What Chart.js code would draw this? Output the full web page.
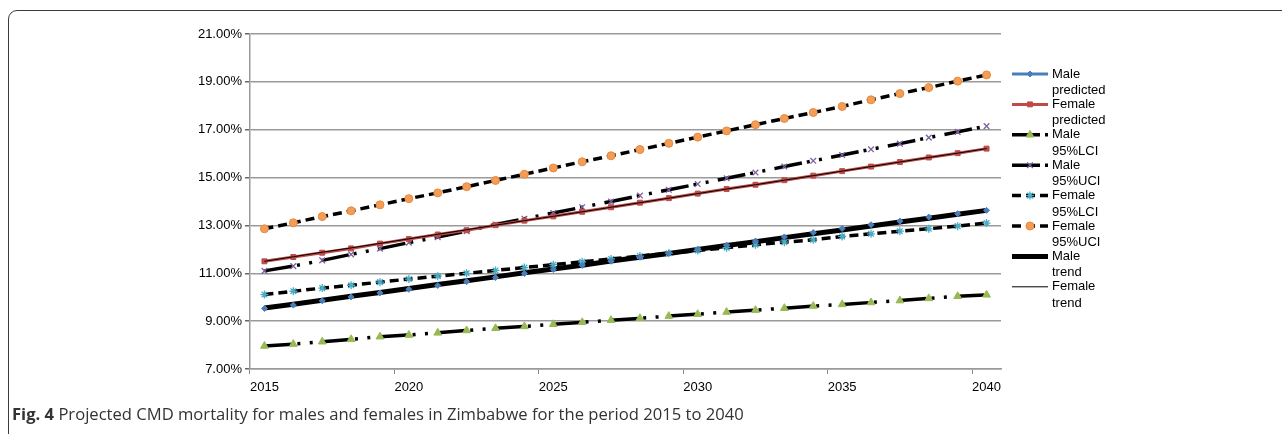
<!DOCTYPE html>
<html>
<head>
<meta charset="utf-8">
<script src="https://cdn.jsdelivr.net/npm/chart.js@4.4.1/dist/chart.umd.min.js"></script>
<style>
  html, body { margin: 0; padding: 0; background: #fff; overflow: hidden; }
  #frame {
    position: absolute; left: 8px; top: 10px; width: 1400px; height: 600px;
    border: 1.5px solid #3c3c3c; border-radius: 9px; box-sizing: border-box;
  }
  #caption {
    position: absolute; left: 12px; top: 402px; white-space: nowrap;
    font-family: "Open Sans", sans-serif; font-size: 16.6px; color: #333;
  }
  #caption b { font-weight: 700; }
  #chart { position: absolute; left: 0; top: 0; }
</style>
</head>
<body>
<div id="frame"></div>
<canvas id="chart" width="1282" height="434"></canvas>
<div id="caption"><b>Fig. 4</b> Projected CMD mortality for males and females in Zimbabwe for the period 2015 to 2040</div>
<script>
// years on the category axis
let years = ['2015', '2016', '2017', '2018', '2019', '2020', '2021', '2022', '2023', '2024', '2025', '2026', '2027',
             '2028', '2029', '2030', '2031', '2032', '2033', '2034', '2035', '2036', '2037', '2038', '2039', '2040'];

// mortality in percent
let malePredicted = [9.53, 9.67, 9.85, 10.01, 10.18, 10.33, 10.49, 10.65, 10.82, 10.99, 11.16, 11.33, 11.50,
                     11.67, 11.84, 12.01, 12.18, 12.35, 12.52, 12.70, 12.87, 13.03, 13.18, 13.35, 13.49, 13.63];
let femalePredicted = [11.50, 11.68, 11.86, 12.04, 12.24, 12.43, 12.62, 12.80, 13.01, 13.20, 13.38, 13.57, 13.76,
                       13.95, 14.14, 14.33, 14.52, 14.70, 14.89, 15.08, 15.27, 15.46, 15.65, 15.84, 16.02, 16.21];
let maleLCI = [7.96, 8.04, 8.14, 8.24, 8.35, 8.42, 8.51, 8.61, 8.70, 8.78, 8.87, 8.95, 9.04,
               9.12, 9.21, 9.29, 9.38, 9.46, 9.54, 9.63, 9.70, 9.78, 9.86, 9.95, 10.04, 10.10];
let maleUCI = [11.10, 11.30, 11.54, 11.79, 12.03, 12.28, 12.51, 12.76, 13.04, 13.28, 13.52, 13.76, 14.00,
               14.25, 14.49, 14.73, 14.97, 15.21, 15.46, 15.70, 15.94, 16.18, 16.42, 16.67, 16.91, 17.15];
let femaleLCI = [10.11, 10.25, 10.38, 10.50, 10.63, 10.76, 10.88, 11.00, 11.12, 11.24, 11.36, 11.48, 11.60,
                 11.72, 11.84, 11.95, 12.07, 12.19, 12.30, 12.40, 12.54, 12.65, 12.76, 12.86, 12.97, 13.10];
let femaleUCI = [12.86, 13.11, 13.37, 13.61, 13.86, 14.12, 14.36, 14.62, 14.88, 15.14, 15.40, 15.66, 15.91,
                 16.17, 16.43, 16.69, 16.95, 17.21, 17.47, 17.72, 17.97, 18.25, 18.51, 18.76, 19.03, 19.29];
let maleTrend = [9.55, 9.71, 9.87, 10.04, 10.20, 10.36, 10.53, 10.69, 10.85, 11.02, 11.18, 11.34, 11.51,
                 11.67, 11.83, 12.00, 12.16, 12.32, 12.49, 12.65, 12.81, 12.98, 13.14, 13.30, 13.47, 13.63];
let femaleTrend = [11.50, 11.69, 11.88, 12.06, 12.25, 12.44, 12.63, 12.82, 13.01, 13.20, 13.38, 13.57, 13.76,
                   13.95, 14.14, 14.33, 14.52, 14.70, 14.89, 15.08, 15.27, 15.46, 15.65, 15.84, 16.02, 16.21];

let yTicks = { min: 7, max: 21, step: 2 };

Chart.defaults.font.family = '"Liberation Sans", Arial, sans-serif';
Chart.defaults.font.size = 13;
Chart.defaults.color = '#000';

const dashDotDot = [28, 5, 3, 9.4, 3, 9.4];
const dash = [9, 5];

// legend drawn by hand so the entries can wrap onto two lines like the original
const sideLegend = {
    id: 'sideLegend',
    afterDraw(chart) {
        let ctx = chart.ctx;
        let area = chart.chartArea;
        let x0 = area.right + 11;
        let y = area.top + 40;
        chart.data.datasets.forEach(ds => {
            ctx.save();
            ctx.strokeStyle = ds.borderColor;
            ctx.lineWidth = ds.borderWidth;
            ctx.setLineDash(ds.borderDash || []);
            ctx.beginPath();
            ctx.moveTo(x0, y);
            ctx.lineTo(x0 + 36, y);
            ctx.stroke();
            ctx.setLineDash([]);
            if (ds.pointRadius > 0) {
                ctx.fillStyle = ds.pointBackgroundColor;
                ctx.strokeStyle = ds.pointBorderColor;
                ctx.lineWidth = ds.pointBorderWidth;
                Chart.helpers.drawPoint(ctx, { pointStyle: ds.pointStyle, radius: ds.pointRadius, rotation: 0, borderWidth: ds.pointBorderWidth }, x0 + 18, y);
            }
            ctx.fillStyle = '#000';
            ctx.font = '13px "Liberation Sans", Arial, sans-serif';
            ctx.textBaseline = 'middle';
            ctx.fillText(ds.label[0], x0 + 40, y);
            ctx.fillText(ds.label[1], x0 + 40, y + 16.5);
            ctx.restore();
            y += 30.4;
        });
    }
};

let chart = new Chart(document.getElementById('chart').getContext('2d'), {
    type: 'line',
    data: {
        labels: years,
        datasets: [
            {
                label: ['Male', 'predicted'], data: malePredicted, showLine: false,
                borderColor: '#4a7ebb', borderWidth: 3,
                pointStyle: 'rectRot', pointRadius: 3, pointBackgroundColor: '#4a7ebb', pointBorderColor: '#4a7ebb', pointBorderWidth: 1
            },
            {
                label: ['Female', 'predicted'], data: femalePredicted,
                borderColor: '#be4b48', borderWidth: 3,
                pointStyle: 'rect', pointRadius: 3.5, pointBackgroundColor: '#be4b48', pointBorderColor: '#be4b48', pointBorderWidth: 1
            },
            {
                label: ['Male', '95%LCI'], data: maleLCI,
                borderColor: '#000', borderWidth: 3.5, borderDash: dashDotDot,
                pointStyle: 'triangle', pointRadius: 4.5, pointBackgroundColor: '#98b954', pointBorderColor: '#98b954', pointBorderWidth: 1
            },
            {
                label: ['Male', '95%UCI'], data: maleUCI,
                borderColor: '#000', borderWidth: 3.5, borderDash: dashDotDot,
                pointStyle: 'crossRot', pointRadius: 4, pointBackgroundColor: '#7d60a0', pointBorderColor: '#7d60a0', pointBorderWidth: 1.3
            },
            {
                label: ['Female', '95%LCI'], data: femaleLCI,
                borderColor: '#000', borderWidth: 3.5, borderDash: dash,
                pointStyle: 'star', pointRadius: 4, pointBackgroundColor: '#4bacc6', pointBorderColor: '#4bacc6', pointBorderWidth: 1.3
            },
            {
                label: ['Female', '95%UCI'], data: femaleUCI,
                borderColor: '#000', borderWidth: 3.5, borderDash: dash,
                pointStyle: 'circle', pointRadius: 4, pointBackgroundColor: '#f59d56', pointBorderColor: '#e58a3c', pointBorderWidth: 1
            },
            {
                label: ['Male', 'trend'], data: maleTrend,
                borderColor: '#000', borderWidth: 5, pointRadius: 0
            },
            {
                label: ['Female', 'trend'], data: femaleTrend, order: -1,
                borderColor: '#000', borderWidth: 1, pointRadius: 0
            }
        ]
    },
    options: {
        responsive: false,
        animation: false,
        devicePixelRatio: 1,
        layout: { padding: { left: 150, right: 281, top: 34, bottom: 35 } },
        plugins: { legend: { display: false }, tooltip: { enabled: false } },
        elements: { line: { tension: 0, borderCapStyle: 'butt' } },
        scales: {
            x: {
                offset: true,
                afterFit: s => { s.height = 30; },
                border: { display: true, color: '#9a9a9a', width: 1.5 },
                grid: {
                    offset: true, drawOnChartArea: false, drawTicks: true, tickLength: 5,
                    color: c => (c.index % 5 === 0 ? '#888' : 'rgba(0,0,0,0)')
                },
                ticks: {
                    autoSkip: false, maxRotation: 0, padding: 6,
                    callback: function (v, i) { return i % 5 === 0 ? this.getLabelForValue(v) : ''; }
                }
            },
            y: {
                min: yTicks.min, max: yTicks.max,
                afterFit: s => { s.width = 100; },
                border: { display: true, color: '#9a9a9a', width: 1.5 },
                grid: { color: '#9a9a9a', lineWidth: 1.5, tickColor: '#666', tickLength: 5 },
                ticks: {
                    stepSize: yTicks.step, padding: 3,
                    callback: v => v.toFixed(2) + '%'
                }
            }
        }
    },
    plugins: [sideLegend]
});
</script>
</body>
</html>
